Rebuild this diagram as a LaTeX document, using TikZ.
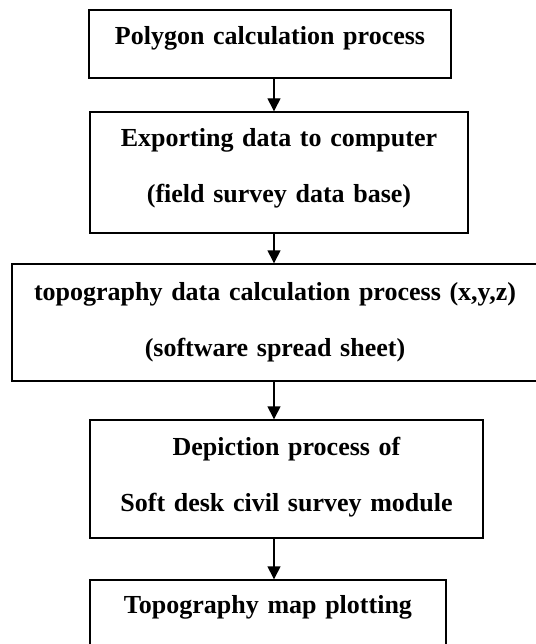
\documentclass[tikz,border=0pt]{standalone}
\usepackage{fontspec}
\setmainfont{Liberation Serif}
\usetikzlibrary{arrows.meta}
\begin{document}
\begin{tikzpicture}[x=1pt, y=-1pt,
    box/.style={draw, line width=1.4pt, inner sep=0pt, align=center, text height=20pt,
                font=\fontsize{26}{56}\selectfont\bfseries},
    arr/.style={line width=1.4pt, -{Triangle[width=13pt,length=13pt]}}]
            \useasboundingbox (0,0) rectangle (535,644);
            \coordinate (axis) at (274,0);
            \node[box, text width=362pt, minimum height=68pt, text depth=18pt] (poly) at (270,44) {Polygon calculation process};
            \node[box, text width=378pt, minimum height=121pt, text depth=71pt] (export) at (279,172.5) {Exporting data to computer\\(field survey data base)};
            \node[box, text width=526pt, minimum height=117pt, text depth=65pt] (topo) at (275,322.5) {topography data calculation process (x,y,z)\\(software spread sheet)};
            \node[box, text width=393pt, minimum height=118pt, text depth=68pt] (depict) at (286.5,479) {Depiction process of\\Soft desk civil survey module};
            \node[box, text width=356pt, minimum height=68pt, text depth=22pt] (plot) at (268,614) {Topography map plotting};
            \draw[arr] (poly.south -| axis) -- (export.north -| axis);
            \draw[arr] (export.south -| axis) -- (topo.north -| axis);
            \draw[arr] (topo.south -| axis) -- (depict.north -| axis);
            \draw[arr] (depict.south -| axis) -- (plot.north -| axis);
        \end{tikzpicture}
\end{document}
